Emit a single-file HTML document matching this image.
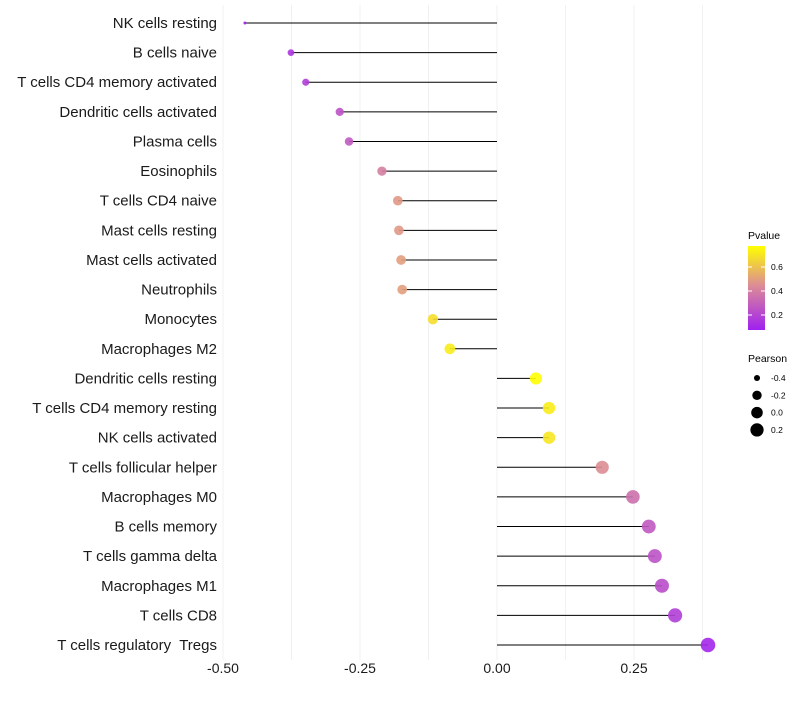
<!DOCTYPE html>
<html><head><meta charset="utf-8"><style>
body{margin:0;background:#fff;font-family:"Liberation Sans",sans-serif}
text{white-space:pre}
</style></head><body>
<svg id="chart" width="800" height="700" xmlns="http://www.w3.org/2000/svg" font-family="Liberation Sans, sans-serif">
<defs><linearGradient id="pg" x1="0" y1="1" x2="0" y2="0">
<stop offset="0" stop-color="#a020f0"/><stop offset="0.53" stop-color="#dc8c96"/><stop offset="1" stop-color="#ffff00"/></linearGradient></defs>
<g id="grid"></g>
<g id="marks"></g>
<g id="labels"></g>
<g id="xt"></g>
<g>
<text x="748" y="239" font-size="10.5" fill="#000">Pvalue</text>
<rect x="748" y="246" width="17" height="84" fill="url(#pg)"/>
<g id="cbt"></g>
</g>
<g id="sizeleg">
<text x="748" y="362" font-size="10.5" fill="#000">Pearson</text>
</g>
</svg>
<script>
const cells=["NK cells resting","B cells naive","T cells CD4 memory activated","Dendritic cells activated","Plasma cells","Eosinophils","T cells CD4 naive","Mast cells resting","Mast cells activated","Neutrophils","Monocytes","Macrophages M2","Dendritic cells resting","T cells CD4 memory resting","NK cells activated","T cells follicular helper","Macrophages M0","B cells memory","T cells gamma delta","Macrophages M1","T cells CD8","T cells regulatory  Tregs"];
const pearson=[-0.46,-0.376,-0.349,-0.287,-0.27,-0.21,-0.181,-0.179,-0.175,-0.173,-0.117,-0.086,0.071,0.095,0.095,0.192,0.248,0.277,0.288,0.301,0.325,0.385];
const pvalue=[0.08,0.15,0.18,0.25,0.27,0.4,0.48,0.48,0.5,0.5,0.68,0.72,0.78,0.72,0.7,0.45,0.35,0.27,0.25,0.23,0.18,0.1];
const xTicks=[-0.5,-0.25,0,0.25];
const xTickLabels=["-0.50","-0.25","0.00","0.25"];
const sizeBreaks=[-0.4,-0.2,0.0,0.2];
const sizeLabels=["-0.4","-0.2","0.0","0.2"];
const pBreaks=[0.2,0.4,0.6];
const NS="http://www.w3.org/2000/svg";
const X=v=>497+v*548;
const Y=i=>23+i*(622/21);
const pMin=Math.min(...pearson),pMax=Math.max(...pearson);
const R=v=>{const t=Math.max(0,Math.min(1,(v-pMin)/(pMax-pMin)));return 1.5+5.8*Math.sqrt(t);};
const PY=p=>330-(p-0.075)/0.7*84;
function col(p){const t=Math.max(0,Math.min(1,(p-0.075)/0.7));
 const a=[160,32,240],m=[220,140,150],b=[255,255,0];let c;
 if(t<0.53){const u=t/0.53;c=a.map((x,k)=>x+(m[k]-x)*u);}else{const u=(t-0.53)/0.47;c=m.map((x,k)=>x+(b[k]-x)*u);}
 return `rgb(${c.map(Math.round).join(',')})`;}
function mk(tag,at,par){const e=document.createElementNS(NS,tag);for(const k in at)e.setAttribute(k,at[k]);document.getElementById(par).appendChild(e);return e;}
for(let v=-0.5;v<=0.376;v+=0.125){const g=mk('line',{x1:X(v),x2:X(v),y1:5,y2:660,stroke:'#f1f1f1','stroke-width':1},'grid');

}
cells.forEach((c,i)=>{
 const y=Y(i);
 const s=mk('line',{x1:X(0),x2:X(pearson[i]),y1:y,y2:y,stroke:'#000','stroke-width':1},'marks');
 
 
 const p=mk('circle',{cx:X(pearson[i]),cy:y,r:R(pearson[i]),fill:col(pvalue[i]),'fill-opacity':0.9},'marks');
 
 
 const t=mk('text',{x:217,y:y+5,'text-anchor':'end','font-size':15,fill:'#1a1a1a'},'labels');
 
 
 t.textContent=c;
});
xTicks.forEach((v,i)=>{const t=mk('text',{x:X(v),y:673,'text-anchor':'middle','font-size':14,fill:'#1a1a1a'},'xt');
 
 
 t.textContent=xTickLabels[i];});
pBreaks.forEach(p=>{const y=PY(p);
 const l=mk('line',{x1:748,x2:752,y1:y,y2:y,stroke:'#fff'},'cbt');
 
 
 const l2=mk('line',{x1:761,x2:765,y1:y,y2:y,stroke:'#fff'},'cbt');
 
 
 const t=mk('text',{x:771,y:y+3,'font-size':8.5,fill:'#000'},'cbt');
 
 
 t.textContent=p.toFixed(1);});
sizeBreaks.forEach((v,i)=>{const y=378+i*17.3;
 const c=mk('circle',{cx:757,cy:y,r:R(v),fill:'#000'},'sizeleg');
 
 
 const t=mk('text',{x:771,y:y+3,'font-size':8.5,fill:'#000'},'sizeleg');
 
 
 t.textContent=sizeLabels[i];});
</script>
</body></html>
